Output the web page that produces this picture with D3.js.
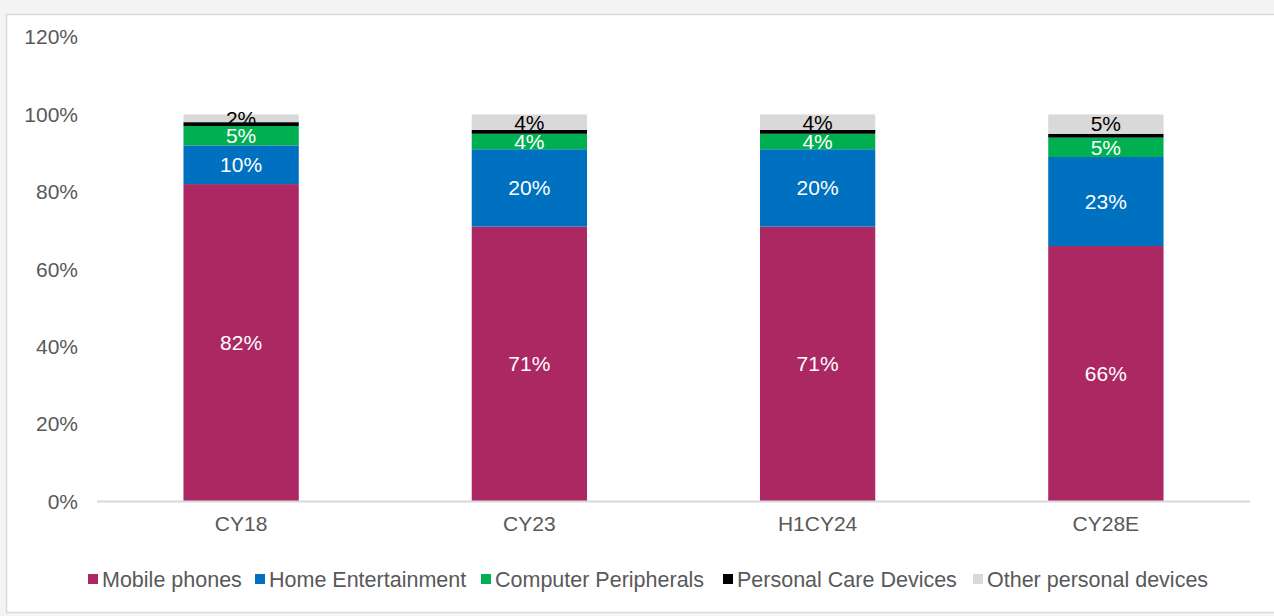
<!DOCTYPE html>
<html>
<head>
<meta charset="utf-8">
<script src="https://cdn.jsdelivr.net/npm/d3@7"></script>
<style>
  html, body { margin: 0; padding: 0; background: #f4f4f4; }
  svg { display: block; }
  text { font-family: "Liberation Sans", Arial, sans-serif; }
</style>
</head>
<body>
<svg id="chart" width="1274" height="616"></svg>
<script>
// Categories and share of each device segment (%)
const categories = ["CY18", "CY23", "H1CY24", "CY28E"];
const seriesNames = ["Mobile phones", "Home Entertainment", "Computer Peripherals", "Personal Care Devices", "Other personal devices"];
const mobilePhones = [82, 71, 71, 66];
const homeEntertainment = [10, 20, 20, 23];
const computerPeripherals = [5, 4, 4, 5];
const personalCare = [1, 1, 1, 1];
const otherDevices = [2, 4, 4, 5];
const yTicks = [0, 20, 40, 60, 80, 100, 120];

const seriesValues = [mobilePhones, homeEntertainment, computerPeripherals, personalCare, otherDevices];
const colors = ["#ab2862", "#0070c0", "#00b050", "#000000", "#d9d9d9"];
const labelColors = ["#ffffff", "#ffffff", "#ffffff", null, "#000000"];

const rows = categories.map((c, i) => {
  const r = { cat: c };
  seriesNames.forEach((s, k) => r[s] = seriesValues[k][i]);
  return r;
});
const stacked = d3.stack().keys(seriesNames)(rows);

const svg = d3.select("#chart");

// Chart frame
svg.append("rect")
  .attr("x", 6.5).attr("y", 14.5)
  .attr("width", 1290).attr("height", 598)
  .attr("fill", "#ffffff").attr("stroke", "#d9d9d9").attr("stroke-width", 1.5);

const x = d3.scaleBand().domain(categories).range([97, 1250]).paddingInner(0.6).paddingOuter(0.3);
const y = d3.scaleLinear().domain([0, 120]).range([501.5, 37]);

const fontSize = 21;

// Y axis labels
svg.append("g").selectAll("text").data(yTicks).join("text")
  .attr("x", 78).attr("y", d => y(d))
  .attr("dy", "0.35em")
  .attr("text-anchor", "end")
  .attr("font-size", fontSize)
  .attr("fill", "#595959")
  .text(d => d + "%");

// Bars
const layers = svg.append("g").selectAll("g").data(stacked).join("g")
  .attr("fill", (d, i) => colors[i]);
layers.selectAll("rect").data(d => d).join("rect")
  .attr("x", d => x(d.data.cat))
  .attr("width", x.bandwidth())
  .attr("y", d => y(d[1]))
  .attr("height", d => y(d[0]) - y(d[1]));

// Baseline
svg.append("line")
  .attr("x1", 97).attr("x2", 1250)
  .attr("y1", y(0)).attr("y2", y(0))
  .attr("stroke", "#d9d9d9").attr("stroke-width", 2);

// Segment value labels
stacked.forEach((layer, k) => {
  if (!labelColors[k]) return;
  svg.append("g").selectAll("text").data(layer).join("text")
    .attr("x", d => x(d.data.cat) + x.bandwidth() / 2)
    .attr("y", d => (y(d[0]) + y(d[1])) / 2)
    .attr("dy", "0.35em")
    .attr("text-anchor", "middle")
    .attr("font-size", fontSize)
    .attr("fill", labelColors[k])
    .text(d => (d[1] - d[0]) + "%");
});

// X axis labels
svg.append("g").selectAll("text").data(categories).join("text")
  .attr("x", d => x(d) + x.bandwidth() / 2)
  .attr("y", 524)
  .attr("dy", "0.35em")
  .attr("text-anchor", "middle")
  .attr("font-size", fontSize)
  .attr("fill", "#595959")
  .text(d => d);

// Legend
const legendX = [88, 255, 481, 723, 973];
const legend = svg.append("g").selectAll("g").data(seriesNames).join("g")
  .attr("transform", (d, i) => `translate(${legendX[i]},579)`);
legend.append("rect")
  .attr("x", 0).attr("y", -5).attr("width", 10).attr("height", 10)
  .attr("fill", (d, i) => colors[i]);
legend.append("text")
  .attr("x", 14).attr("y", 0).attr("dy", "0.35em")
  .attr("font-size", 21.5)
  .attr("fill", "#595959")
  .text(d => d);
</script>
</body>
</html>
